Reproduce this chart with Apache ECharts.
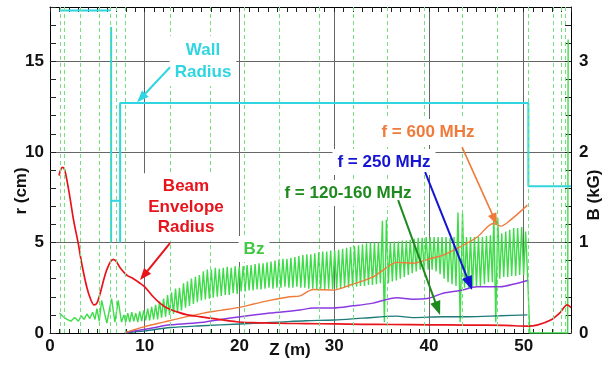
<!DOCTYPE html>
<html>
<head>
<meta charset="utf-8">
<script src="https://cdn.jsdelivr.net/npm/echarts@6/dist/echarts.min.js"></script>
<style>
  html, body { margin: 0; padding: 0; background: #fff; }
  #chart { width: 605px; height: 366px; }
</style>
</head>
<body>
<div id="chart"></div>
<script>
// tick labels
const zTicks = [0, 10, 20, 30, 40, 50];
const rTicks = [0, 5, 10, 15];
const bTicks = [0, 1, 2, 3];

// wall radius (z m, r cm), one list per drawn segment
const wallSegments = [
    [[1.0, 17.8], [6.35, 17.8]],
    [[6.45, 16.9], [6.45, 5.0]],
    [[6.45, 7.3], [7.4, 7.3]],
    [[7.4, 5.0], [7.4, 12.7], [50.5, 12.7], [50.5, 8.1], [55, 8.1]],
];

// beam envelope radius (z m, r cm)
const beamEnvelope = [
    [0.95, 8.7], [1.15, 9.05], [1.35, 9.15], [1.55, 9.0], [1.8, 8.4], [2.1, 7.5], [2.5, 6.2],
    [2.96, 5.0], [3.4, 3.7], [3.9, 2.5], [4.3, 1.85], [4.65, 1.55], [4.95, 1.65], [5.3, 2.2],
    [5.7, 3.0], [6.0, 3.5], [6.4, 3.95], [6.7, 4.07], [7.0, 3.95], [7.4, 3.6], [8.1, 3.2],
    [8.8, 3.0], [9.5, 2.75], [10.0, 2.55], [10.9, 2.0], [11.6, 1.65], [12.3, 1.4], [13.5, 1.15],
    [14.5, 1.0], [15.8, 0.9], [17.5, 0.78], [19.7, 0.62], [21.5, 0.57], [23.2, 0.55], [25, 0.53],
    [27, 0.52], [30, 0.5], [33, 0.48], [36, 0.47], [40, 0.45], [44, 0.44], [48, 0.42],
    [50.4, 0.38], [51.5, 0.45], [52.8, 0.7], [53.8, 1.1], [54.6, 1.55], [55, 1.4],
];

// f = 600 MHz
const f600 = [
    [7.9, 0.02], [9, 0.2], [10, 0.35], [12, 0.6], [14, 0.85], [16.2, 1.1], [18, 1.25], [20.1, 1.43],
    [21.5, 1.6], [23.2, 1.8], [25.3, 2.0], [26.4, 2.05], [27.8, 2.4], [29.9, 2.37], [31.7, 2.65],
    [34.1, 3.1], [35.5, 3.6], [36.6, 3.9], [38.3, 3.85], [40.1, 4.1], [41.5, 4.3], [43.3, 4.75],
    [45.1, 5.3], [46.8, 6.05], [47.6, 5.9], [48.6, 6.23], [50.4, 7.06],
];

// f = 250 MHz
const f250 = [
    [7.9, 0.02], [9, 0.12], [10.5, 0.25], [12.7, 0.45], [16.2, 0.6], [18, 0.75], [20.1, 0.9],
    [23.2, 1.1], [26.4, 1.27], [27.8, 1.38], [29.9, 1.38], [32, 1.5], [34.1, 1.65], [36.6, 1.95],
    [38.3, 1.87], [39.8, 1.9], [41.5, 2.2], [43.3, 2.35], [45.1, 2.55], [47.5, 2.55], [49, 2.7],
    [50.4, 2.9],
];

// f = 120-160 MHz
const f120 = [
    [7.9, 0.01], [10, 0.12], [12.7, 0.3], [16, 0.4], [20, 0.5], [24, 0.6], [27, 0.68], [30, 0.72],
    [33, 0.82], [36.6, 0.93], [38.3, 0.85], [41.5, 0.9], [44, 0.9], [47.5, 0.95], [50.4, 1.0],
];

// Bz on axis (z m, B kG)
const bzField = [
    [1.0, 0.22], [1.4, 0.18], [1.8, 0.15], [2.2, 0.13], [2.6, 0.17], [3.0, 0.13], [3.3, 0.19],
    [3.6, 0.15], [3.9, 0.21], [4.2, 0.16], [4.5, 0.23], [4.75, 0.15], [4.95, 0.27], [5.2, 0.13],
    [5.45, 0.36], [6.0, 0.11], [6.5, 0.38], [6.85, 0.12], [7.2, 0.36], [7.55, 0.12], [7.8, 0.2],
    [8.00, 0.12], [8.21, 0.22], [8.42, 0.12], [8.63, 0.23], [8.84, 0.13], [9.05, 0.22], [9.26, 0.12], [9.47, 0.24], [9.68, 0.13], [9.89, 0.25],
    [10.10, 0.14], [10.31, 0.27], [10.52, 0.14], [10.73, 0.29], [10.94, 0.15], [11.15, 0.31], [11.36, 0.15], [11.57, 0.35], [11.78, 0.17], [11.99, 0.38],
    [12.20, 0.18], [12.41, 0.42], [12.62, 0.20], [12.83, 0.45], [13.04, 0.21], [13.25, 0.49], [13.46, 0.23], [13.67, 0.50], [13.88, 0.25], [14.09, 0.55],
    [14.30, 0.28], [14.51, 0.57], [14.72, 0.30], [14.93, 0.60], [15.14, 0.32], [15.35, 0.62], [15.56, 0.34], [15.77, 0.64], [15.98, 0.36], [16.19, 0.68],
    [16.40, 0.37], [16.61, 0.70], [16.82, 0.38], [17.03, 0.70], [17.24, 0.39], [17.45, 0.72], [17.66, 0.40], [17.87, 0.71], [18.08, 0.41], [18.29, 0.72],
    [18.50, 0.42], [18.71, 0.73], [18.92, 0.42], [19.13, 0.72], [19.34, 0.44], [19.55, 0.74], [19.76, 0.43], [19.97, 0.73], [20.18, 0.46], [20.39, 0.74],
    [20.60, 0.46], [20.81, 0.75], [21.02, 0.47], [21.23, 0.75], [21.44, 0.47], [21.65, 0.76], [21.86, 0.48], [22.07, 0.77], [22.28, 0.48], [22.49, 0.77],
    [22.70, 0.49], [22.91, 0.78], [23.12, 0.50], [23.33, 0.79], [23.54, 0.49], [23.75, 0.80], [23.96, 0.50], [24.17, 0.81], [24.38, 0.50], [24.59, 0.82],
    [24.80, 0.51], [25.01, 0.82], [25.22, 0.50], [25.43, 0.83], [25.64, 0.50], [25.85, 0.84], [26.06, 0.51], [26.27, 0.85], [26.48, 0.50], [26.69, 0.86],
    [26.90, 0.50], [27.11, 0.87], [27.32, 0.49], [27.53, 0.87], [27.74, 0.49], [27.95, 0.88], [28.16, 0.48], [28.37, 0.89], [28.58, 0.49], [28.79, 0.90],
    [29.00, 0.48], [29.21, 0.90], [29.42, 0.49], [29.63, 0.91], [29.84, 0.48], [30.05, 0.91], [30.26, 0.49], [30.47, 0.92], [30.68, 0.49], [30.89, 0.93],
    [31.10, 0.50], [31.31, 0.94], [31.52, 0.50], [31.73, 0.95], [31.94, 0.51], [32.15, 0.96], [32.36, 0.51], [32.57, 0.97], [32.78, 0.52], [32.99, 0.98],
    [33.20, 0.52], [33.41, 0.99], [33.62, 0.53], [33.83, 1.00], [34.04, 0.53], [34.25, 1.00], [34.46, 0.54], [34.67, 1.00], [34.88, 0.55], [35.09, 1.24],
    [35.30, 0.12], [35.51, 1.25], [35.72, 0.55], [35.93, 1.00], [36.14, 0.57], [36.35, 1.01], [36.56, 0.58], [36.77, 1.01], [36.98, 0.60], [37.19, 1.02],
    [37.40, 0.62], [37.61, 1.02], [37.82, 0.64], [38.03, 1.03], [38.24, 0.66], [38.45, 1.04], [38.66, 0.68], [38.87, 1.05], [39.08, 0.70], [39.29, 1.05],
    [39.50, 0.70], [39.71, 1.06], [39.92, 0.70], [40.13, 1.06], [40.34, 0.70], [40.55, 1.06], [40.76, 0.68], [40.97, 1.06], [41.18, 0.65], [41.39, 1.06],
    [41.60, 0.60], [41.81, 1.06], [42.02, 0.56], [42.23, 1.05], [42.44, 0.54], [42.65, 1.06], [42.86, 0.52], [43.07, 1.33], [43.30, 0.12], [43.55, 1.32],
    [43.76, 0.50], [43.97, 1.06], [44.18, 0.50], [44.39, 1.06], [44.60, 0.50], [44.81, 1.06], [45.02, 0.51], [45.23, 1.06], [45.44, 0.52], [45.65, 1.06],
    [45.86, 0.54], [46.07, 1.07], [46.28, 0.56], [46.49, 1.08], [46.70, 0.56], [46.85, 1.32], [47.06, 0.12], [47.27, 1.27], [47.48, 0.60], [47.69, 1.10],
    [47.90, 0.62], [48.11, 1.12], [48.32, 0.62], [48.53, 1.14], [48.74, 0.63], [48.95, 1.16], [49.16, 0.63], [49.37, 1.16], [49.58, 0.64], [49.79, 1.17],
    [50.00, 0.64], [50.21, 1.12], [50.45, 0.55], [50.65, 0.0], [54.65, 0.0], [54.7, 3.24],
];

// solenoid / cavity positions drawn as dashed verticals (z m)
const coilZ = [1.06, 1.48, 3.17, 5.17, 6.34, 6.97, 7.92, 12.67, 16.9, 20.5, 24.2, 28.4, 32.0,
    35.6, 39.5, 43.5, 47.2, 50.5, 53.1, 54.0, 54.4];

const FONT = "'Liberation Sans', Arial, sans-serif";
const CYAN = '#2fd5e0';
const RED = '#e8141c';
const ORANGE = '#f07a3a';
const PURPLE = '#8c3ae0';
const TEAL = '#1f7a7a';
const BZ_GREEN = '#3fdc4a';
const DARK_GREEN = '#1e8a1e';
const BLUE = '#1414d2';

const chart = echarts.init(document.getElementById('chart'), null, { renderer: 'canvas' });

const labelStyle = {
    fontFamily: FONT,
    fontSize: 17,
    fontWeight: 'bold',
    color: '#111',
};

const minorAxis = (pos, max, interval, len) => ({
    type: 'value',
    position: pos,
    min: 0,
    max: max,
    interval: interval,
    axisLine: { show: pos === 'top', onZero: false, lineStyle: { color: '#000' } },
    axisTick: { show: true, inside: true, length: len, lineStyle: { color: '#222' } },
    axisLabel: { show: false },
    splitLine: { show: false },
});

const lineSeries = (name, data, color, width, yIndex, smooth) => ({
    name: name,
    type: 'line',
    data: data,
    xAxisIndex: 0,
    yAxisIndex: yIndex,
    showSymbol: false,
    symbol: 'none',
    smooth: smooth || false,
    lineStyle: { color: color, width: width },
    silent: true,
    animation: false,
});

const series = [];

// dashed vertical lines
series.push({
    type: 'line',
    data: [],
    xAxisIndex: 0,
    yAxisIndex: 0,
    silent: true,
    z: 1,
    markLine: {
        silent: true,
        symbol: ['none', 'none'],
        label: { show: false },
        animation: false,
        lineStyle: { color: '#74e07f', type: [4, 3], width: 1 },
        data: coilZ.map(z => ({ xAxis: z })),
    },
});

series.push(lineSeries('Bz', bzField, BZ_GREEN, 1.4, 1));
wallSegments.forEach((seg, i) => series.push(lineSeries('wall' + i, seg, CYAN, 2, 0)));
series.push(lineSeries('f120', f120, TEAL, 1.4, 0, 0.3));
series.push(lineSeries('f250', f250, PURPLE, 1.5, 0, 0.3));
series.push(lineSeries('f600', f600, ORANGE, 1.4, 0, 0.3));
series.push(lineSeries('beam', beamEnvelope, RED, 1.7, 0, 0.3));

const option = {
    backgroundColor: '#fff',
    animation: false,
    grid: { left: 50, right: 34, top: 7, bottom: 33, containLabel: false },
    xAxis: [
        {
            type: 'value',
            position: 'bottom',
            min: 0,
            max: 55,
            interval: 10,
            axisLine: { show: true, onZero: false, lineStyle: { color: '#000' } },
            axisTick: { show: false },
            axisLabel: Object.assign({}, labelStyle, {
                margin: 5,
                showMaxLabel: false,
                formatter: v => (zTicks.indexOf(v) >= 0 ? String(v) : ''),
            }),
            splitLine: { show: true, lineStyle: { color: '#666', width: 1 } },
        },
        minorAxis('bottom', 55, 1, 4),
        minorAxis('top', 55, 1, 5),
    ],
    yAxis: [
        {
            type: 'value',
            position: 'left',
            min: 0,
            max: 18,
            interval: 5,
            axisLine: { show: true, onZero: false, lineStyle: { color: '#000' } },
            axisTick: { show: false },
            axisLabel: Object.assign({}, labelStyle, {
                margin: 6,
                showMaxLabel: false,
                formatter: v => (rTicks.indexOf(v) >= 0 ? String(v) : ''),
            }),
            splitLine: { show: true, lineStyle: { color: '#666', width: 1 } },
        },
        {
            type: 'value',
            position: 'right',
            min: 0,
            max: 3.6,
            interval: 1,
            axisLine: { show: true, onZero: false, lineStyle: { color: '#000' } },
            axisTick: { show: false },
            axisLabel: Object.assign({}, labelStyle, {
                margin: 8,
                showMaxLabel: false,
                formatter: v => (bTicks.indexOf(v) >= 0 ? String(v) : ''),
            }),
            splitLine: { show: false },
        },
        minorAxis('left', 18, 1, 6),
        minorAxis('right', 3.6, 0.2, 6),
    ],
    series: series,
};

chart.setOption(option);

// annotations: arrows point at data positions (z m, r cm)
const arrows = [
    { from: [12.67, 14.67], to: [9.19, 12.74], color: CYAN, width: 2, head: 12 },
    { from: [12.67, 4.96], to: [9.5, 2.92], color: RED, width: 2, head: 12 },
    { from: [43.5, 10.26], to: [47.2, 5.96], color: ORANGE, width: 1.6, head: 12 },
    { from: [39.6, 8.88], to: [44.56, 2.37], color: BLUE, width: 2, head: 14 },
    { from: [36.75, 7.34], to: [41.18, 0.99], color: DARK_GREEN, width: 2, head: 14 },
];

const labels = [
    { text: 'Wall\nRadius', x: 203, y: 61, color: CYAN, lh: 22 },
    { text: 'Beam\nEnvelope\nRadius', x: 186, y: 207, color: RED, lh: 20.5 },
    { text: 'Bz', x: 254, y: 249, color: '#44c844', lh: 20 },
    { text: 'f = 600 MHz', x: 428, y: 132, color: ORANGE, lh: 20 },
    { text: 'f = 250 MHz', x: 384, y: 162, color: BLUE, lh: 20 },
    { text: 'f = 120-160 MHz', x: 348, y: 193, color: DARK_GREEN, lh: 20 },
    { text: 'r (cm)', x: 21, y: 191, color: '#111', lh: 20, rot: Math.PI / 2, plain: true },
    { text: 'Z (m)', x: 290, y: 350, color: '#111', lh: 20, plain: true },
    { text: 'B (kG)', x: 594, y: 195, color: '#111', lh: 20, rot: Math.PI / 2, plain: true },
];

const px = p => chart.convertToPixel({ xAxisIndex: 0, yAxisIndex: 0 }, p);

const graphics = [];
labels.forEach(l => {
    graphics.push({
        type: 'text',
        x: l.x,
        y: l.y,
        rotation: l.rot || 0,
        z: 100,
        silent: true,
        style: {
            text: l.text,
            font: 'bold 17px ' + FONT,
            fill: l.color,
            align: 'center',
            verticalAlign: 'middle',
            lineHeight: l.lh,
            backgroundColor: l.plain ? 'transparent' : '#fff',
            padding: l.plain ? 0 : [3, 5],
        },
    });
});

arrows.forEach(a => {
    const p0 = px(a.from);
    const p1 = px(a.to);
    const dx = p1[0] - p0[0];
    const dy = p1[1] - p0[1];
    const len = Math.sqrt(dx * dx + dy * dy);
    const ux = dx / len, uy = dy / len;
    const nx = -uy, ny = ux;
    const h = a.head, w = a.head * 0.38;
    const bx = p1[0] - ux * h, by = p1[1] - uy * h;
    graphics.push({
        type: 'line',
        z: 101,
        silent: true,
        shape: { x1: p0[0], y1: p0[1], x2: bx + ux * 2, y2: by + uy * 2 },
        style: { stroke: a.color, lineWidth: a.width },
    });
    graphics.push({
        type: 'polygon',
        z: 101,
        silent: true,
        shape: { points: [[p1[0], p1[1]], [bx + nx * w, by + ny * w], [bx - nx * w, by - ny * w]] },
        style: { fill: a.color },
    });
});

chart.setOption({ graphic: graphics });
</script>
</body>
</html>
